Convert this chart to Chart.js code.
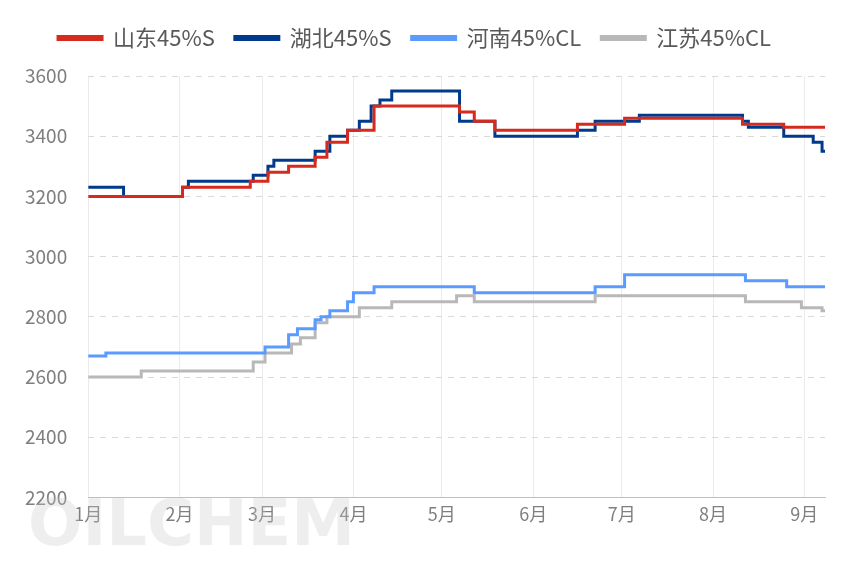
<!DOCTYPE html>
<html><head><meta charset="utf-8">
<script src="https://cdn.jsdelivr.net/npm/chart.js@4"></script>
<style>html,body{margin:0;padding:0;background:#fff}#wrap{width:865px;height:576px}</style>
</head><body><div id="wrap"><canvas id="c"></canvas></div>
<script>
// 日序号(1月1日=0) 与 价格变动点
const monthDays = [0, 31, 59, 90, 120, 151, 181, 212, 243];
const monthLabels = ['1月','2月','3月','4月','5月','6月','7月','8月','9月'];
const lastDay = 250;

const sdDays = [0, 32, 55, 61, 68, 77, 81, 88, 97, 126, 131, 138, 166, 182, 222, 236];
const sdVals = [3200, 3230, 3250, 3280, 3300, 3330, 3380, 3420, 3500, 3480, 3450, 3420, 3440, 3460, 3440, 3430];

const hbDays = [0, 12, 32, 34, 56, 61, 63, 77, 82, 88, 92, 96, 99, 103, 126, 138, 166, 172, 187, 222, 224, 236, 246, 249];
const hbVals = [3230, 3200, 3230, 3250, 3270, 3300, 3320, 3350, 3400, 3420, 3450, 3500, 3520, 3550, 3450, 3400, 3420, 3450, 3470, 3450, 3430, 3400, 3380, 3350];

const hnDays = [0, 6, 60, 68, 71, 77, 79, 82, 88, 90, 97, 131, 172, 182, 223, 237];
const hnVals = [2670, 2680, 2700, 2740, 2760, 2790, 2800, 2820, 2850, 2880, 2900, 2880, 2900, 2940, 2920, 2900];

const jsDays = [0, 18, 56, 60, 69, 72, 77, 81, 92, 103, 125, 131, 172, 223, 242, 249];
const jsVals = [2600, 2620, 2650, 2680, 2710, 2730, 2780, 2800, 2830, 2850, 2870, 2850, 2870, 2850, 2830, 2820];

function pts(days, vals) {
  const p = days.map(function(d, i) { return { x: d, y: vals[i] }; });
  p.push({ x: lastDay, y: vals[vals.length - 1] });
  return p;
}
function ds(label, days, vals, color) {
  return { label: label, data: pts(days, vals), borderColor: color, backgroundColor: color,
    borderWidth: 3, pointRadius: 0, stepped: 'before' };
}

const watermark = {
  id: 'wm',
  beforeDatasetsDraw: function(chart) {
    const ctx = chart.ctx;
    ctx.save();
    ctx.font = 'bold 64px "DejaVu Sans"';
    ctx.fillStyle = 'rgba(200,200,200,0.3)';
    ctx.fillText('OILCHEM', 28, 528);
    ctx.restore();
  }
};
// 图例下方留白
const legendGap = {
  id: 'legendGap',
  beforeInit: function(chart) {
    const fit = chart.legend.fit;
    chart.legend.fit = function() { fit.bind(chart.legend)(); this.height += 17; };
  }
};

new Chart(document.getElementById('c'), {
  type: 'line',
  data: { datasets: [
    ds('山东45%S', sdDays, sdVals, '#d62a1e'),
    ds('湖北45%S', hbDays, hbVals, '#003a8c'),
    ds('河南45%CL', hnDays, hnVals, '#5b9bff'),
    ds('江苏45%CL', jsDays, jsVals, '#b8b8b8')
  ]},
  options: {
    responsive: true, maintainAspectRatio: false, animation: false,
    layout: { padding: { left: 4, right: 40, top: 7, bottom: 45 } },
    plugins: {
      legend: { position: 'top', labels: { boxWidth: 44, boxHeight: 3, padding: 20,
        color: '#595959', font: { size: 22, family: '"Noto Sans CJK SC"' } } },
      tooltip: { enabled: false }
    },
    scales: {
      x: { type: 'linear', min: 0, max: lastDay,
        afterBuildTicks: function(ax) { ax.ticks = monthDays.map(function(d) { return { value: d }; }); },
        ticks: { color: '#7f7f7f', padding: 6, font: { size: 18, family: '"Noto Sans CJK SC"' }, autoSkip: false,
          callback: function(v) { const i = monthDays.indexOf(v); return i > -1 ? monthLabels[i] : ''; } },
        grid: { color: '#ebebeb', drawTicks: false },
        border: { color: '#bfbfbf' }
      },
      y: { min: 2200, max: 3600,
        ticks: { stepSize: 200, color: '#7f7f7f', padding: 21, font: { size: 19, family: '"Noto Sans CJK SC"' },
          callback: function(v) { return String(v); } },
        grid: { color: '#d9d9d9', drawTicks: false },
        border: { display: false, dash: [6, 6] }
      }
    }
  },
  plugins: [watermark, legendGap]
});
</script></body></html>
